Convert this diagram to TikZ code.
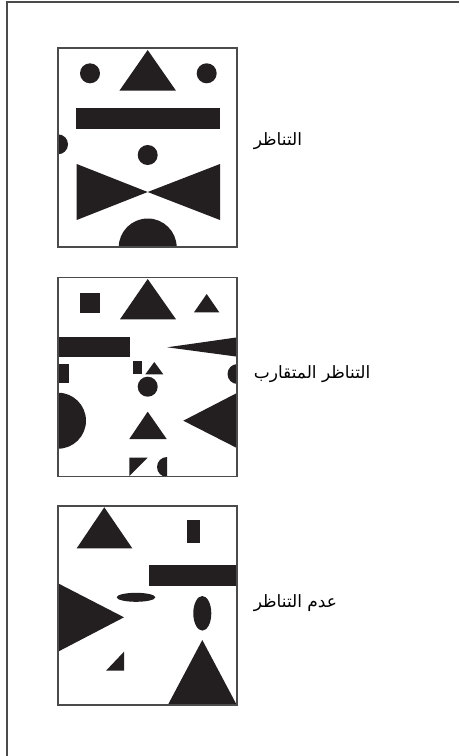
\documentclass[tikz,border=0pt]{standalone}
\usepackage{fontspec}
\usepackage{tikz}
\usetikzlibrary{positioning}
\TeXXeTstate=1
\newfontfamily\arabicfont[Script=Arabic]{DejaVu Sans}
\definecolor{inkblack}{RGB}{35,31,32}
\definecolor{framegray}{RGB}{75,75,75}

\begin{document}
\begin{tikzpicture}[x=1pt, y=-1pt,
    node distance=0pt and 16pt,
    panel/.style={rectangle, draw=framegray, line width=1.2pt,
                  minimum width=179pt, minimum height=199pt, inner sep=0pt},
    lbl/.style={font=\arabicfont\fontsize{17}{20}\selectfont, inner sep=0pt},
    blk/.style={fill=inkblack}]
\path[use as bounding box] (0,0) rectangle (459,756);
\draw[framegray, line width=1.4pt] (7,756) -- (7,2) -- (459,2);

% the three panels
\node[panel] (sym) at (147.5,147.5) {};
\node[panel] (near) at (147.5,377) {};
\node[panel] (asym) at (147.5,605.5) {};

% symmetry
\begin{scope}
\clip (sym.south west) rectangle (sym.north east);
\fill[blk] (90,73.3) circle[radius=10pt];
\fill[blk] (147.7,50) -- (176,90.7) -- (119.4,90.7) -- cycle;
\fill[blk] (206.7,73.3) circle[radius=10pt];
\fill[blk] (76,107.7) rectangle (220,129);
\fill[blk] (58,144.3) circle[radius=10pt];
\fill[blk] (147.7,155) circle[radius=10pt];
\fill[blk] (76.7,164) -- (147.7,192) -- (76.7,220) -- cycle;
\fill[blk] (220,164) -- (147.7,192) -- (220,220) -- cycle;
\fill[blk] (147.7,247.5) circle[radius=29pt];
\end{scope}

% near symmetry
\begin{scope}
\clip (near.south west) rectangle (near.north east);
\fill[blk] (80,293.3) rectangle (100,312.7);
\fill[blk] (147.7,279) -- (176,319.3) -- (120,319.3) -- cycle;
\fill[blk] (206.7,294) -- (219.3,312.3) -- (194,312.3) -- cycle;
\fill[blk] (58,336.7) rectangle (130,357.3);
\fill[blk] (167.3,347.3) -- (237.5,337.3) -- (237.5,356.7) -- cycle;
\fill[blk] (58,364) rectangle (69,383.3);
\fill[blk] (132.7,360.7) rectangle (141.7,374.3);
\fill[blk] (154.3,362) -- (163.3,374.3) -- (145.3,374.3) -- cycle;
\fill[blk] (147.7,386.7) circle[radius=10pt];
\fill[blk] (237.5,374) circle[radius=10pt];
\fill[blk] (58,420.7) circle[radius=28pt];
\fill[blk] (183.3,420.7) -- (237.5,392.7) -- (237.5,448.3) -- cycle;
\fill[blk] (147.7,411.7) -- (166.7,439) -- (129.3,439) -- cycle;
\fill[blk] (129.3,457.7) -- (147.7,457.7) -- (129.3,476) -- cycle;
\fill[blk] (167,457) arc[start angle=90, end angle=270, radius=10pt] -- cycle;
\end{scope}

% asymmetry
\begin{scope}
\clip (asym.south west) rectangle (asym.north east);
\fill[blk] (104.3,507.3) -- (132.3,548.3) -- (76.7,548.3) -- cycle;
\fill[blk] (187,520) rectangle (200,543.3);
\fill[blk] (149,565) rectangle (237.5,585.7);
\fill[blk] (58,583.3) -- (124,617.3) -- (58,651.7) -- cycle;
\fill[blk] (136,597.3) ellipse[x radius=19.3pt, y radius=4.5pt];
\fill[blk] (202.3,613.3) ellipse[x radius=9pt, y radius=17.3pt];
\fill[blk] (124,651.7) -- (124,670.7) -- (106,670.7) -- cycle;
\fill[blk] (202.3,640) -- (237.3,706) -- (167.3,706) -- cycle;
\end{scope}

% redraw the frames over the shapes
\node[panel] at (sym) {};
\node[panel] at (near) {};
\node[panel] at (asym) {};

\node[lbl, right=of sym, yshift=6pt] (symtext) {\beginR التناظر\endR};
\node[lbl, right=of near, yshift=3pt] (neartext) {\beginR التناظر المتقارب\endR};
\node[lbl, right=of asym, yshift=2pt] (asymtext) {\beginR عدم التناظر\endR};
\end{tikzpicture}
\end{document}
